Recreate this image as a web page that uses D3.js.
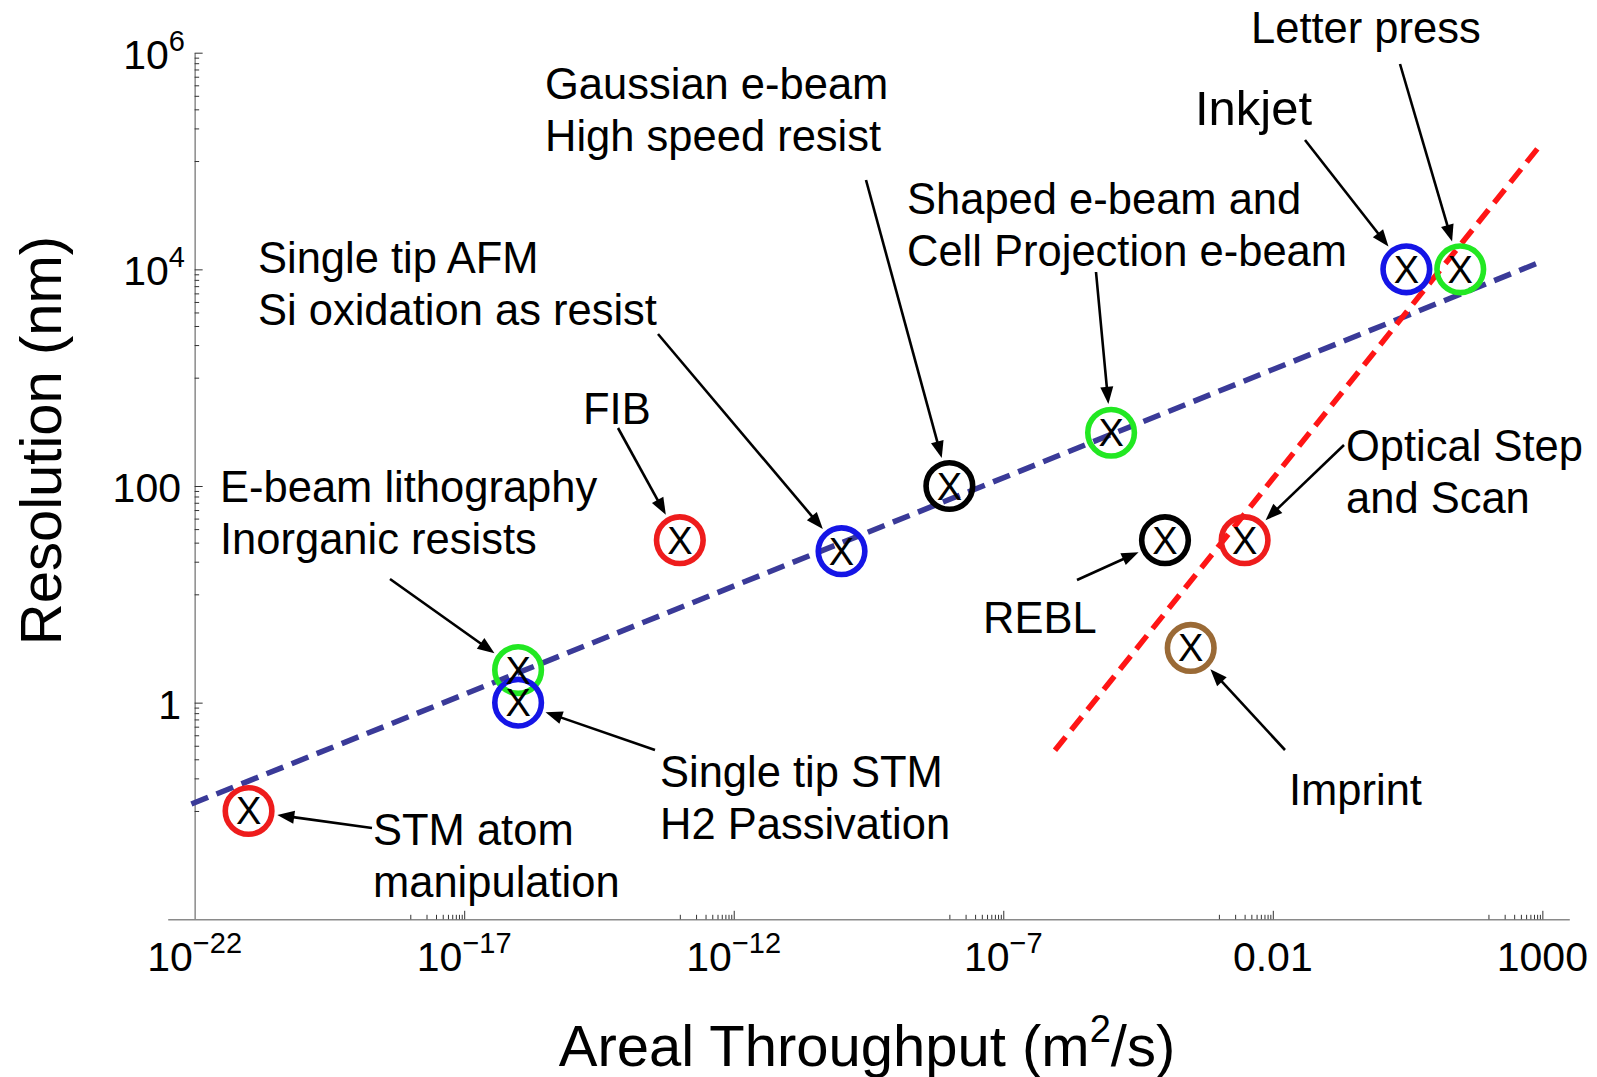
<!DOCTYPE html>
<html><head><meta charset="utf-8">
<script src="https://cdn.jsdelivr.net/npm/d3@7"></script>
<style>
html,body{margin:0;padding:0;background:#fff;}
svg{display:block;font-family:"Liberation Sans",Arial,Helvetica,sans-serif;}
</style></head>
<body>
<svg id="chart" width="1597" height="1077"></svg>
<script>
// ---- data ----
const techNames = ["STM atom manipulation","E-beam lithography inorganic resists","Single tip STM H2 passivation","FIB","Single tip AFM","Gaussian e-beam","Shaped e-beam","REBL","Imprint","Optical step and scan","Inkjet","Letter press"];
const throughput = [1e-21, 1e-16, 1e-16, 1e-13, 1e-10, 1e-8, 1e-5, 1e-4, 3e-4, 3e-3, 3, 30];   // m^2/s
const resolution = [0.1, 2, 1, 31.6, 25, 100, 310, 31.6, 3.2, 31.6, 1e4, 1e4];            // nm
const markerColor = ["#ee1c1c","#22e822","#1515e6","#ee1c1c","#1515e6","#000000","#22e822","#000000","#9a6a36","#ee1c1c","#1515e6","#22e822"];

const blueTrendX = [8.7e-23, 871];
const blueTrendY = [0.116, 11560];
const redTrendX = [9.1e-7, 1000];
const redTrendY = [0.363, 147900];

const xMajorTicks = [1e-22, 1e-17, 1e-12, 1e-7, 0.01, 1000];
const xTickLabels = [["10","\u221222"],["10","\u221217"],["10","\u221212"],["10","\u22127"],["0.01",""],["1000",""]];
const yMajorTicks = [1, 100, 1e4, 1e6];
const yTickLabels = [["1",""],["100",""],["10","4"],["10","6"]];

// ---- annotation layout (pixels) ----
const annotations = [
  {i:0,  lines:["STM atom","manipulation"], tx:373, ty:845, tail:[372,828]},
  {i:1,  lines:["E-beam lithography","Inorganic resists"], tx:220, ty:502, tail:[390,579]},
  {i:2,  lines:["Single tip STM","H2 Passivation"], tx:660, ty:787, tail:[655,750]},
  {i:3,  lines:["FIB"], tx:583, ty:424, tail:[618,428]},
  {i:4,  lines:["Single tip AFM","Si oxidation as resist"], tx:258, ty:273, tail:[658,334]},
  {i:5,  lines:["Gaussian e-beam","High speed resist"], tx:545, ty:99, tail:[866,180]},
  {i:6,  lines:["Shaped e-beam and","Cell Projection e-beam"], tx:907, ty:214, tail:[1096,272]},
  {i:7,  lines:["REBL"], tx:983, ty:633, tail:[1077,580]},
  {i:8,  lines:["Imprint"], tx:1289, ty:805, tail:[1285,750]},
  {i:9,  lines:["Optical Step","and Scan"], tx:1346, ty:461, tail:[1344,445]},
  {i:10, lines:["Inkjet"], tx:1195, ty:125, tail:[1305,140], big:true},
  {i:11, lines:["Letter press"], tx:1251, ty:43, tail:[1400,64]}
];

const svg = d3.select("#chart");
const x = d3.scaleLog().domain([Math.pow(10,-22.5), Math.pow(10,3.5)]).range([167.7, 1569.3]);
const y = d3.scaleLog().domain([0.01, 1e6]).range([919.3, 52.7]);

function minorOf(majors, lo, hi){
  const out=[];
  majors.forEach(M=>{ for(let k=1;k<=9;k++){ const v=k*M/10; if(v>lo && v<hi) out.push(v);} });
  return out;
}
const xMinor = minorOf(xMajorTicks.slice(1), x.domain()[0], x.domain()[1]);
const yMinor = minorOf(yMajorTicks, y.domain()[0]*1.01, y.domain()[1]);

// x axis
const x0 = y(0.01);
const gx = svg.append("g").attr("transform",`translate(0,${x0})`);
gx.call(d3.axisBottom(x).tickValues(xMajorTicks.slice(1)).tickSize(-8.5).tickSizeOuter(0).tickFormat(()=>""));
const gxm = svg.append("g").attr("transform",`translate(0,${x0})`);
gxm.call(d3.axisBottom(x).tickValues(xMinor).tickSize(-4.5).tickSizeOuter(0).tickFormat(()=>""));
gxm.select(".domain").remove();
// y axis
const y0 = x(1e-22);
const gy = svg.append("g").attr("transform",`translate(${y0},0)`);
gy.call(d3.axisLeft(y).tickValues(yMajorTicks).tickSize(-8).tickSizeOuter(0).tickFormat(()=>""));
const gym = svg.append("g").attr("transform",`translate(${y0},0)`);
gym.call(d3.axisLeft(y).tickValues(yMinor).tickSize(-4.5).tickSizeOuter(0).tickFormat(()=>""));
gym.select(".domain").remove();
svg.selectAll(".domain").attr("stroke","#8a8a8a").attr("stroke-width",1.5);
svg.selectAll(".tick line").attr("stroke","#333").attr("stroke-width",1);

// tick labels
xMajorTicks.forEach((v,k)=>{
  const t = svg.append("text").attr("x",x(v)).attr("y",x0+51.5).attr("text-anchor","middle")
     .attr("font-size",41).attr("fill","#000");
  t.append("tspan").text(xTickLabels[k][0]);
  if(xTickLabels[k][1]) t.append("tspan").attr("font-size",29).attr("dy",-18).text(xTickLabels[k][1]);
});
yMajorTicks.forEach((v,k)=>{
  const sup = yTickLabels[k][1];
  const t = svg.append("text").attr("x", sup?185:181).attr("y",y(v)+16).attr("text-anchor","end")
     .attr("font-size",41).attr("fill","#000");
  t.append("tspan").text(yTickLabels[k][0]);
  if(sup) t.append("tspan").attr("font-size",29).attr("dy",-18).text(sup);
});

// axis titles
const xt = svg.append("text").attr("x",867).attr("y",1066).attr("text-anchor","middle").attr("font-size",58).attr("fill","#000");
xt.append("tspan").text("Areal Throughput (m");
xt.append("tspan").attr("font-size",38).attr("dy",-24).text("2");
xt.append("tspan").attr("dy",24).text("/s)");
svg.append("text").attr("transform","translate(61,440.5) rotate(-90)").attr("text-anchor","middle")
   .attr("font-size",58).attr("fill","#000").text("Resolution (nm)");

// trend lines
const line = d3.line().x(d=>x(d[0])).y(d=>y(d[1]));
svg.append("path").attr("d",line(blueTrendX.map((v,k)=>[v,blueTrendY[k]])))
   .attr("fill","none").attr("stroke","#3a3a98").attr("stroke-width",5.5).attr("stroke-dasharray","18,9");
svg.append("path").attr("d",line(redTrendX.map((v,k)=>[v,redTrendY[k]])))
   .attr("fill","none").attr("stroke","#ff1515").attr("stroke-width",5.5).attr("stroke-dasharray","17,9");

// markers
const pts = throughput.map((v,k)=>({x:v,y:resolution[k],c:markerColor[k]}));
const mg = svg.append("g");
mg.selectAll("circle").data(pts).join("circle")
  .attr("cx",d=>x(d.x)).attr("cy",d=>y(d.y)).attr("r",23.3)
  .attr("fill","none").attr("stroke",d=>d.c).attr("stroke-width",5.6);
mg.selectAll("text").data(pts).join("text")
  .attr("x",d=>x(d.x)).attr("y",d=>y(d.y)+13.5).attr("text-anchor","middle")
  .attr("font-size",38).attr("fill","#000").text("X");

// annotations
const ag = svg.append("g");
annotations.forEach(a=>{
  const fs = a.big?49:43.5;
  const t = ag.append("text").attr("x",a.tx).attr("y",a.ty).attr("font-size",fs).attr("fill","#000");
  a.lines.forEach((s,j)=>t.append("tspan").attr("x",a.tx).attr("dy", j===0?0:52).text(s));
  const cx = x(throughput[a.i]), cy = y(resolution[a.i]);
  const dx = a.tail[0]-cx, dy = a.tail[1]-cy, L = Math.hypot(dx,dy);
  const ux = dx/L, uy = dy/L;
  const tip = [cx+ux*29, cy+uy*29];
  const hl = 17, hw = 6.5;
  const base = [tip[0]+ux*hl, tip[1]+uy*hl];
  ag.append("line").attr("x1",a.tail[0]).attr("y1",a.tail[1]).attr("x2",base[0]-ux*1).attr("y2",base[1]-uy*1)
    .attr("stroke","#000").attr("stroke-width",2.6);
  ag.append("path").attr("d",`M${tip[0]},${tip[1]}L${base[0]-uy*hw},${base[1]+ux*hw}L${base[0]+uy*hw},${base[1]-ux*hw}Z`)
    .attr("fill","#000");
});
</script>
</body></html>
